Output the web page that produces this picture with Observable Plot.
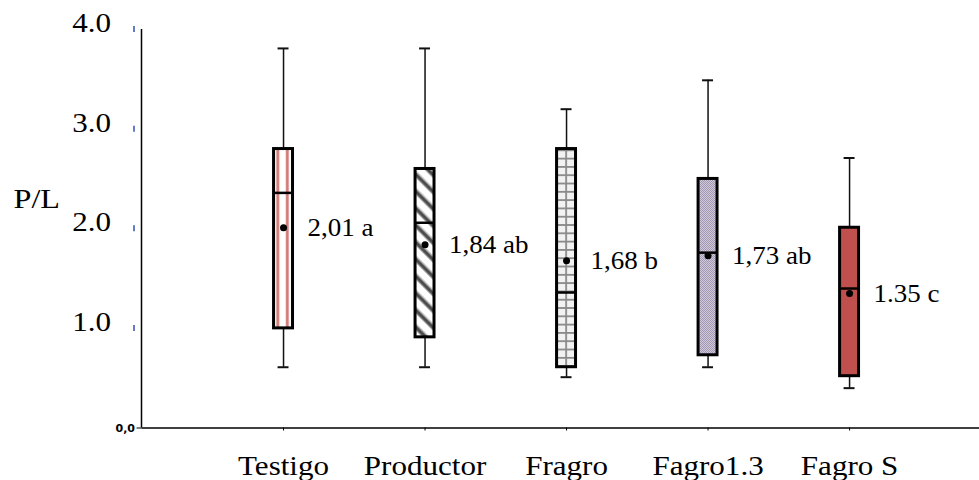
<!DOCTYPE html>
<html>
<head>
<meta charset="utf-8">
<script src="https://cdn.jsdelivr.net/npm/d3@7"></script>
<script src="https://cdn.jsdelivr.net/npm/@observablehq/plot@0.6"></script>
<style>
  body { margin: 0; background: #fff; }
  #chart svg { display: block; }
</style>
</head>
<body>
<div id="chart"></div>
<script>
// P/L ratio by treatment: whiskers, quartiles, median and mean
const treatments  = ["Testigo", "Productor", "Fragro", "Fagro1.3", "Fagro S"];
const whiskerLow  = [0.61, 0.61, 0.51, 0.61, 0.40];
const quartile1   = [1.00, 0.91, 0.61, 0.73, 0.52];
const medians     = [2.36, 2.06, 1.36, 1.76, 1.40];
const quartile3   = [2.80, 2.60, 2.80, 2.50, 2.01];
const whiskerHigh = [3.81, 3.81, 3.20, 3.49, 2.71];
const means       = [2.01, 1.84, 1.68, 1.73, 1.35];
const meanLabels  = ["2,01 a", "1,84 ab", "1,68 b", "1,73 ab", "1.35 c"];
const yTickValues = [1, 2, 3, 4];
const yTickLabels = ["1.0", "2.0", "3.0", "4.0"];
const zeroLabel   = "0,0";
const yTitle      = "P/L";

// box fills (patterns are defined below, once the plot exists)
const boxFill = {
  "Testigo": "url(#fill-stripes)",
  "Productor": "url(#fill-diagonal)",
  "Fragro": "url(#fill-grid)",
  "Fagro1.3": "url(#fill-dots)",
  "Fagro S": "#c0504d"
};

const rows = treatments.map((t, i) => ({
  treatment: t,
  lo: whiskerLow[i], q1: quartile1[i], median: medians[i],
  q3: quartile3[i], hi: whiskerHigh[i], mean: means[i],
  label: meanLabels[i], fill: boxFill[t]
}));

const serif = "'Liberation Serif', 'Times New Roman', 'DejaVu Serif', serif";

const plot = Plot.plot({
  width: 979,
  height: 480,
  marginLeft: 141.5,
  marginRight: 0,
  marginTop: 29,
  marginBottom: 52.5,
  style: { fontFamily: serif, background: "#fff", color: "#000" },
  x: {
    type: "band", domain: treatments, label: null,
    range: [202.8, 929.3], paddingInner: 0.866, paddingOuter: 0.5, align: 0.5, round: false
  },
  y: { domain: [0, 4], label: null },
  color: { type: "identity" },
  marks: [
    // whiskers and caps
    Plot.ruleX(rows, { x: "treatment", y1: "lo", y2: "hi", stroke: "#111", strokeWidth: 1.5 }),
    Plot.tickY(rows, { x: "treatment", y: "hi", stroke: "#111", strokeWidth: 2, insetLeft: 4, insetRight: 4 }),
    Plot.tickY(rows, { x: "treatment", y: "lo", stroke: "#111", strokeWidth: 2, insetLeft: 4, insetRight: 4 }),
    // boxes
    Plot.barY(rows, { x: "treatment", y1: "q1", y2: "q3", fill: "fill", stroke: "#000", strokeWidth: 3 }),
    Plot.tickY(rows, { x: "treatment", y: "median", stroke: "#000", strokeWidth: 2.5 }),
    Plot.dot(rows, { x: "treatment", y: "mean", r: 3.5, fill: "#000" }),
    Plot.text(rows, { x: "treatment", y: "mean", text: "label", dx: 24, textAnchor: "start", fontSize: 25, fontFamily: serif, className: "mean-label" }),
    // axes
    Plot.ruleY([0], { stroke: "#000", strokeWidth: 1.5 }),
    Plot.axisX({ tickSize: 3, tickPadding: 24.5, fontSize: 27, fontFamily: serif }),
    Plot.axisY(yTickValues, {
      tickSize: 0, tickPadding: 31, dy: -6, fontSize: 27, fontFamily: serif,
      tickFormat: (d) => yTickLabels[yTickValues.indexOf(d)]
    }),
    Plot.axisY([0], {
      tickSize: 5, tickPadding: 2, fontSize: 11, fontWeight: "bold",
      fontFamily: "'DejaVu Sans', Verdana, sans-serif", tickFormat: () => zeroLabel
    }),
    Plot.text([yTitle], { frameAnchor: "left", dx: -128.5, dy: -30, textAnchor: "start", fontSize: 28, fontFamily: serif })
  ]
});

document.getElementById("chart").append(plot);

const svg = d3.select(plot);

// the serif lettering is set slightly wide: stretch each label about its own anchor
svg.selectAll("text").each(function () {
  const t = this.getAttribute("transform");
  if (!t || this.textContent === zeroLabel) return;
  const isMeanLabel = this.closest("g.mean-label") !== null;
  this.setAttribute("transform", t + (isMeanLabel ? " scale(1.08,1)" : " scale(1.15,1)"));
});

// vertical axis line and the small blue tick marks beside it
const xs = plot.scale("x");
const ys = plot.scale("y");
const left = 141.5;
svg.append("line")
  .attr("x1", left).attr("x2", left)
  .attr("y1", ys.apply(0)).attr("y2", ys.apply(4))
  .attr("stroke", "#000").attr("stroke-width", 1.5);
svg.append("g").selectAll("line").data(yTickValues).join("line")
  .attr("x1", left - 7.5).attr("x2", left - 7.5)
  .attr("y1", (d) => ys.apply(d) - 3).attr("y2", (d) => ys.apply(d) + 3)
  .attr("stroke", "#3050b0").attr("stroke-width", 1.5);

// fill patterns, aligned to the left edge of each box
const bw = xs.bandwidth;
const defs = svg.insert("defs", ":first-child");

const stripes = defs.append("pattern").attr("id", "fill-stripes")
  .attr("patternUnits", "userSpaceOnUse")
  .attr("x", xs.apply("Testigo")).attr("y", 0)
  .attr("width", bw / 2).attr("height", 10);
stripes.append("rect").attr("width", bw / 2).attr("height", 10).attr("fill", "#fff");
stripes.append("rect").attr("x", 2.5).attr("width", 3.5).attr("height", 10).attr("fill", "#f0c8c6");
stripes.append("rect").attr("x", 3).attr("width", 2.5).attr("height", 10).attr("fill", "#d27a76");

const diag = defs.append("pattern").attr("id", "fill-diagonal")
  .attr("patternUnits", "userSpaceOnUse")
  .attr("width", 12).attr("height", 12)
  .attr("patternTransform", "rotate(-45)");
diag.append("rect").attr("width", 12).attr("height", 12).attr("fill", "#fff");
diag.append("rect").attr("x", 0).attr("width", 5.5).attr("height", 12).attr("fill", "#b4b4b4");
diag.append("rect").attr("x", 1.2).attr("width", 3).attr("height", 12).attr("fill", "#4a4a4a");

const grid = defs.append("pattern").attr("id", "fill-grid")
  .attr("patternUnits", "userSpaceOnUse")
  .attr("x", xs.apply("Fragro") - 0.8).attr("y", 0)
  .attr("width", bw / 2).attr("height", 8.3);
grid.append("rect").attr("width", bw / 2).attr("height", 8.3).attr("fill", "#f2f2f2");
grid.append("rect").attr("width", 1.8).attr("height", 8.3).attr("fill", "#8a8a8a");
grid.append("rect").attr("width", bw / 2).attr("height", 1.8).attr("fill", "#8a8a8a");

const dots = defs.append("pattern").attr("id", "fill-dots")
  .attr("patternUnits", "userSpaceOnUse")
  .attr("width", 2).attr("height", 2);
dots.append("rect").attr("width", 2).attr("height", 2).attr("fill", "#cfc9d8");
dots.append("rect").attr("width", 1).attr("height", 1).attr("fill", "#a398b3");
dots.append("rect").attr("x", 1).attr("y", 1).attr("width", 1).attr("height", 1).attr("fill", "#a398b3");
</script>
</body>
</html>
